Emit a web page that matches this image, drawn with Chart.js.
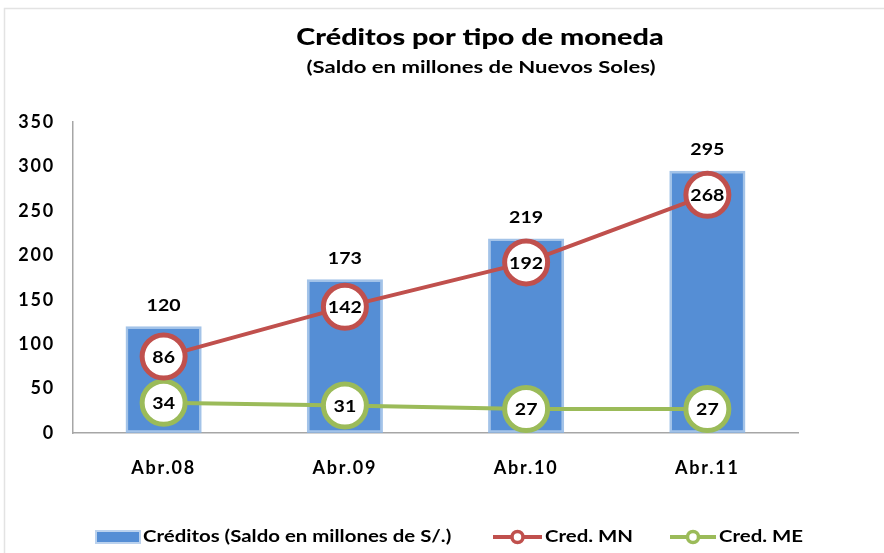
<!DOCTYPE html>
<html><head><meta charset="utf-8">
<script src="https://cdn.jsdelivr.net/npm/chart.js@4/dist/chart.umd.min.js"></script>
<style>html,body{margin:0;padding:0;background:#fff}#wrap{width:884px;height:553px;position:relative}</style>
</head><body><div id="wrap"><canvas id="c" width="884" height="553"></canvas></div>
<script>
const categories = ["Abr.08", "Abr.09", "Abr.10", "Abr.11"];
const creditos = [120, 173, 219, 295];
const credMN = [86, 142, 192, 268];
const credME = [34, 31, 27, 27];
const yTicks = [0, 50, 100, 150, 200, 250, 300, 350];
const titleText = "Créditos por tipo de moneda";
const subtitleText = "(Saldo en millones de Nuevos Soles)";
const legendLabels = ["Créditos (Saldo en millones de S/.)", "Cred. MN", "Cred. ME"];

const FONT = "Lato, 'Open Sans', sans-serif";
const BLUE = "#558ED5", RED = "#C0504D", GREEN = "#9BBB59";

function txt(ctx, s, x, y, font, sx, align, baseline) {
  ctx.save();
  ctx.letterSpacing = '0px';
  ctx.font = font; ctx.textAlign = align; ctx.textBaseline = baseline; ctx.fillStyle = '#000';
  ctx.translate(x, y); ctx.scale(sx, 1); ctx.fillText(s, 0, 0);
  ctx.restore();
}

const decor = {
  id: 'decor',
  beforeDraw(chart) {
    const ctx = chart.ctx;
    ctx.letterSpacing = '1.8px';
    ctx.save();
    ctx.strokeStyle = '#e3e3e3'; ctx.lineWidth = 1.5;
    ctx.beginPath(); ctx.moveTo(4.5, 560); ctx.lineTo(4.5, 8.5); ctx.lineTo(890, 8.5); ctx.stroke();
    ctx.restore();
    txt(ctx, titleText, 480, 45, "900 23px " + FONT, 1.25, 'center', 'alphabetic');
    txt(ctx, subtitleText, 481, 73, "bold 17px " + FONT, 1.3, 'center', 'alphabetic');
  },
  afterDatasetsDraw(chart) {
    const ctx = chart.ctx;
    const lf = "bold 17px " + FONT;
    chart.getDatasetMeta(2).data.forEach((el, i) => txt(ctx, String(creditos[i]), el.x, el.y - 21, lf, 1.15, 'center', 'middle'));
    chart.getDatasetMeta(0).data.forEach((el, i) => txt(ctx, String(credMN[i]), el.x, el.y + 1, lf, 1.15, 'center', 'middle'));
    chart.getDatasetMeta(1).data.forEach((el, i) => txt(ctx, String(credME[i]), el.x, el.y + 1, lf, 1.15, 'center', 'middle'));
    // legend
    const ly = 537;
    const gf = "bold 17px " + FONT;
    ctx.save();
    ctx.fillStyle = 'rgba(85,142,213,0.4)'; ctx.fillRect(95, ly - 7, 46, 14);
    ctx.fillStyle = BLUE; ctx.fillRect(97, ly - 5, 42, 10);
    ctx.restore();
    txt(ctx, legendLabels[0], 143, ly, gf, 1.2, 'left', 'middle');
    const mk = (x0, x1, col) => {
      ctx.save();
      ctx.strokeStyle = col; ctx.lineWidth = 4;
      ctx.beginPath(); ctx.moveTo(x0, ly); ctx.lineTo(x1, ly); ctx.stroke();
      ctx.fillStyle = '#fff'; ctx.lineWidth = 3.5;
      ctx.beginPath(); ctx.arc((x0 + x1) / 2, ly, 5.5, 0, Math.PI * 2); ctx.fill(); ctx.stroke();
      ctx.restore();
    };
    mk(493, 542, RED);
    txt(ctx, legendLabels[1], 545, ly, gf, 1.2, 'left', 'middle');
    mk(670, 716, GREEN);
    txt(ctx, legendLabels[2], 719, ly, gf, 1.2, 'left', 'middle');
  }
};

new Chart(document.getElementById('c'), {
  data: {
    labels: categories,
    datasets: [
      { type: 'line', label: legendLabels[1], data: credMN, borderColor: RED, borderWidth: 4,
        pointRadius: 21.5, pointHoverRadius: 21.5, pointBorderWidth: 5, pointBackgroundColor: '#fff', pointBorderColor: RED, order: 1 },
      { type: 'line', label: legendLabels[2], data: credME, borderColor: GREEN, borderWidth: 4,
        pointRadius: 21.5, pointHoverRadius: 21.5, pointBorderWidth: 5, pointBackgroundColor: '#fff', pointBorderColor: GREEN, order: 2 },
      { type: 'bar', label: legendLabels[0], data: creditos, backgroundColor: BLUE,
        borderColor: 'rgba(140,180,226,0.8)', borderWidth: 2.5, borderSkipped: false,
        barPercentage: 0.42, categoryPercentage: 1, order: 3 }
    ]
  },
  options: {
    responsive: false, animation: false, devicePixelRatio: 1,
    layout: { padding: { left: 0, right: 86, top: 122, bottom: 0 } },
    plugins: { legend: { display: false }, title: { display: false }, tooltip: { enabled: false } },
    scales: {
      x: {
        grid: { display: false, drawTicks: false },
        border: { color: '#a6a6a6', width: 1.5 },
        ticks: { color: '#000', font: { family: FONT, size: 18, weight: 'bold' }, padding: 24 },
        afterFit(s) { s.height = 120; }
      },
      y: {
        min: 0, max: 350,
        grid: { display: false, drawTicks: false },
        border: { color: '#a6a6a6', width: 1.5 },
        afterBuildTicks(s) { s.ticks = yTicks.map(v => ({ value: v })); },
        ticks: { color: '#000', font: { family: FONT, size: 18, weight: 'bold' }, padding: 18 },
        afterFit(s) { s.width = 73; }
      }
    }
  },
  plugins: [decor]
});
</script></body></html>
